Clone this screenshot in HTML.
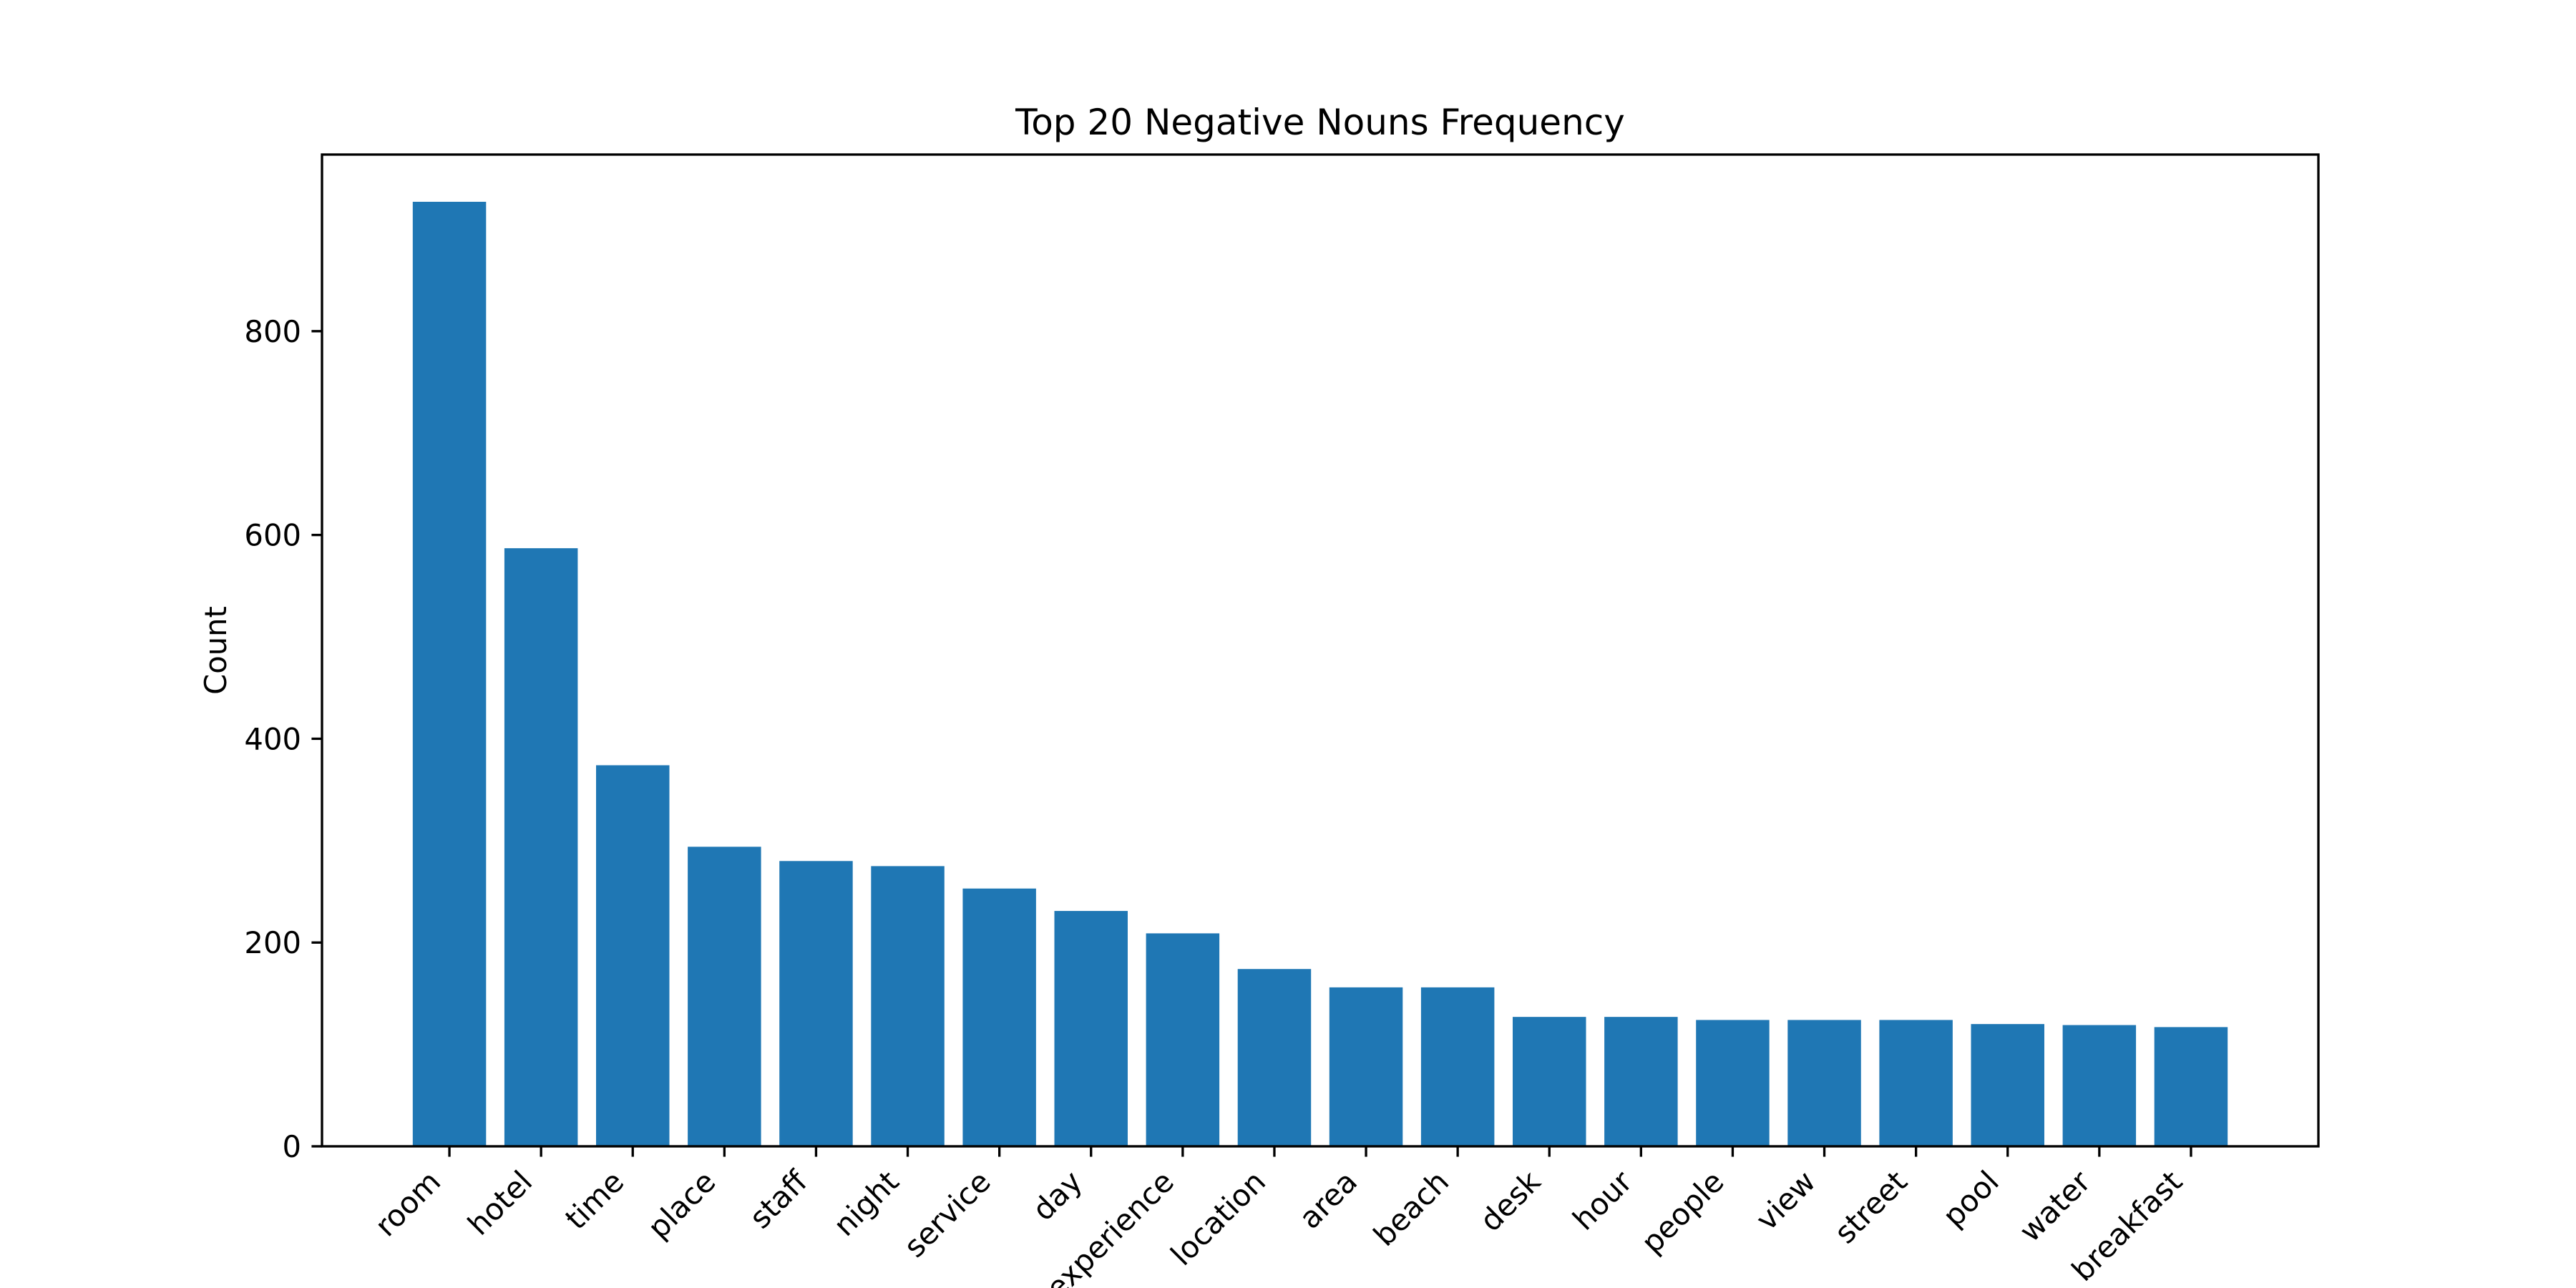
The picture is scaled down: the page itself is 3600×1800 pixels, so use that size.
<!DOCTYPE html>
<html><head><meta charset="utf-8"><style>
html,body{margin:0;padding:0;background:#fff;}
svg{display:block;font-family:"DejaVu Sans","Liberation Sans",sans-serif;}
</style></head><body>
<svg id="chart" width="3600" height="1800" viewBox="0 0 3600 1800" xmlns="http://www.w3.org/2000/svg">
<rect width="3600" height="1800" fill="#fff"/>
<text x="1845" y="188" font-size="50" text-anchor="middle">Top 20 Negative Nouns Frequency</text>
<text transform="translate(316,909) rotate(-90)" font-size="41.7" text-anchor="middle">Count</text>
<g id="bars"></g>
<g id="yticks"></g>
<g id="xticks"></g>
<rect x="450" y="216" width="2790" height="1386" fill="none" stroke="#000" stroke-width="3.33"/>
</svg>
<script>
const categories = ["room","hotel","time","place","staff","night","service","day","experience","location","area","beach","desk","hour","people","view","street","pool","water","breakfast"];
const counts = [927,587,374,294,280,275,253,231,209,174,156,156,127,127,124,124,124,120,119,117];
const yTickValues = [0,200,400,600,800];

const NS = "http://www.w3.org/2000/svg";
const L = 450, R = 3240, T = 216, B = 1602;
const yMax = Math.max(...counts) * 1.05;
const n = categories.length;
const xMin = -0.4 - 0.05 * (n - 0.2), xMax = (n - 0.6) + 0.05 * (n - 0.2);
const xs = v => L + (v - xMin) / (xMax - xMin) * (R - L);
const ys = v => B - v / yMax * (B - T);
function mk(tag, attrs, parent) {
  const e = document.createElementNS(NS, tag);
  for (const k in attrs) e.setAttribute(k, attrs[k]);
  parent.appendChild(e);
  return e;
}
const gb = document.getElementById('bars');
const gx = document.getElementById('xticks');
const gy = document.getElementById('yticks');
categories.forEach((c, i) => {
  const x0 = xs(i - 0.4), x1 = xs(i + 0.4);
  const r = mk('rect', {x: x0, y: ys(counts[i]), width: x1 - x0, height: B - ys(counts[i]), fill: '#1f77b4'}, gb);
  
  
  const cx = xs(i);
  const t = mk('line', {x1: cx, y1: B, x2: cx, y2: B + 14.6, stroke: '#000', 'stroke-width': 3.33}, gx);
  
  
  const lab = mk('text', {'font-size': 41.7, 'text-anchor': 'end', 'dominant-baseline': 'hanging', transform: 'translate(' + (cx - 32) + ',' + (B + 30) + ') rotate(-45)'}, gx);
  lab.textContent = c;
  
  
});
yTickValues.forEach(v => {
  const y = ys(v);
  const t = mk('line', {x1: L - 14.6, y1: y, x2: L, y2: y, stroke: '#000', 'stroke-width': 3.33}, gy);
  
  
  const lab = mk('text', {x: L - 29, y: y + 15, 'font-size': 41.7, 'text-anchor': 'end'}, gy);
  lab.textContent = v;
  
  
});
</script>
</body></html>
